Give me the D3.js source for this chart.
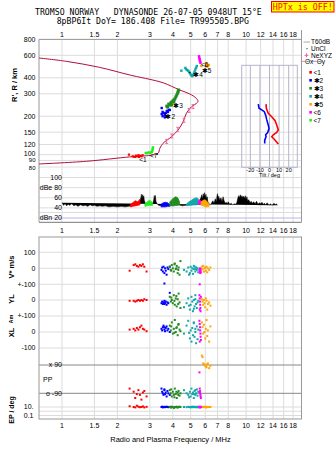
<!DOCTYPE html>
<html>
<head>
<meta charset="utf-8">
<script src="https://cdn.jsdelivr.net/npm/d3@7"></script>
<style>
body { margin: 0; background: #fff; }
svg text { font-family: "Liberation Sans", Arial, sans-serif; fill: #000; }
</style>
</head>
<body>
<div id="container"></div>
<script>
const width = 335;
const height = 451;
const left = 39;
const right = 301.5;

// axis ticks
const freqTicks = [1, 1.5, 2, 3, 4, 5, 6, 7, 8, 10, 12, 14, 16, 18];
const heightTicks = [80, 90, 100, 120, 150, 200, 300, 400, 600, 800];
const ampTicks = [100, 80, 60, 40, 20];
const ampTickLabels = ['100', 'dBe 80', '60', '40', 'dBn 20'];
const tiltTicks = [-20, -10, 0, 10, 20];

const echoColors = ['#ff0000', '#0000ff', '#228b22', '#10a8a8', '#ffa500', '#ff00ff', '#22ee22'];
const echoNames = ['<1', '✱2', '✱3', '✱4', '✱5', '<6', '<7'];

// true height profile
const profileFreq = [0.75, 1.36, 2.33, 2.88, 3.12, 3.33, 3.40, 3.54, 3.93, 4.27, 4.55, 4.74, 5.05, 5.37, 5.48, 5.37, 4.94, 4.36, 3.54, 3.00, 2.38, 1.60, 1.06, 0.75];
const profileHeight = [84.5, 88.7, 96, 98, 99.5, 102.5, 112, 122.7, 138, 156, 181, 211, 237, 252, 262, 276, 299, 321, 366, 389, 418, 483, 538, 572];
const markFreq = [5.15, 4.9, 4.6, 4.25, 3.95, 3.7];
const markHeight = [238, 222, 186, 158, 140, 127];

// echoes, virtual height
const redFreq = [2.31, 2.42, 2.47, 2.52, 2.57, 2.62, 2.66, 2.7, 2.74, 2.5, 2.6];
const redHeight = [100, 97, 96, 98, 97, 96, 98, 97, 99, 96, 99];
const blueFreq = [3.48, 3.52, 3.57, 3.62, 3.52, 3.67, 3.71, 3.76, 3.8, 3.62, 3.48, 3.85, 3.67];
const blueHeight = [208, 200, 212, 204, 216, 212, 220, 216, 224, 196, 232, 224, 200];
const greenFreq = [3.71, 3.8, 3.9, 3.94, 4.0, 4.05, 4.1, 4.15, 4.2, 4.25, 4.28, 4.3, 3.75, 3.85, 3.94, 4.05];
const greenHeight = [240, 249, 254, 245, 263, 258, 273, 283, 293, 304, 315, 321, 236, 245, 258, 268];
const tealFreq = [4.45, 4.68, 4.72, 4.78, 4.85, 4.9, 4.95, 5.0, 5.05, 5.1, 5.15, 5.2, 5.25, 5.3, 5.35, 5.4];
const tealHeight = [455, 478, 468, 460, 455, 445, 435, 425, 418, 412, 420, 432, 448, 465, 480, 495];
const orangeFreq = [5.72, 6.05, 6.1, 6.15, 6.2, 6.28, 6.1];
const orangeHeight = [495, 520, 510, 500, 492, 505, 490];
const magentaFreq = [5.55, 5.57, 5.59, 5.61, 5.63, 5.65];
const magentaHeight = [590, 575, 560, 548, 535, 525];
const limeFreq = [2.85, 2.9, 2.95, 3.0, 3.04, 3.08, 3.1, 3.11, 3.12];
const limeHeight = [103, 103, 104, 103, 104, 105, 108, 111, 114];
const unclFreq = [3.62, 4.95, 6.0, 3.3];
const unclHeight = [208, 440, 495, 101];

const labelFreq = [2.75, 3.87, 4.27, 5.48, 6.1, 5.96, 3.15];
const labelHeight = [91, 198, 243, 426, 455, 507, 98];

// tilt inset
const tiltXHeight = [249, 231, 211, 198, 185, 171, 156, 149, 143, 138, 132, 124, 121];
const tiltX = [-3.6, -3.3, -1.3, 2.3, 5.7, 7.5, 9.2, 7.5, 4.0, 2.3, 5.0, 8.1, 9.2];
const tiltYHeight = [249, 231, 224, 217, 204, 188, 171, 160, 149, 143, 138, 130, 122];
const tiltY = [-11.7, -10.9, -8.1, -5.4, -4.0, -2.9, -1.3, -0.5, -1.9, -4.0, -3.6, -5.0, -5.0];

// amplitude
const noiseFreq = [1.0, 1.02, 1.04, 1.06, 1.08, 1.1, 1.13, 1.16, 1.19, 1.22, 1.26, 1.3, 1.34, 1.38, 1.42, 1.46, 1.5, 1.55, 1.6, 1.66, 1.72, 1.8, 1.9, 2.0, 2.1, 2.2, 2.3, 2.4, 2.5, 2.6, 2.64, 2.68, 2.7, 2.72, 2.74, 2.76, 2.78, 2.8, 2.83, 2.86, 2.95, 3.05, 3.12, 3.15, 3.17, 3.19, 3.21, 3.24, 3.28, 3.35, 3.5, 3.7, 3.9, 4.1, 4.3, 4.5, 4.7, 4.9, 5.1, 5.3, 5.5, 5.6, 5.68, 5.75, 5.8, 5.85, 5.9, 5.95, 6.0, 6.05, 6.1, 6.15, 6.2, 6.3, 6.4, 6.5, 6.6, 6.7, 6.8, 6.9, 6.95, 7.0, 7.05, 7.1, 7.2, 7.3, 7.4, 7.5, 7.6, 7.7, 7.8, 7.9, 8.0, 8.15, 8.3, 8.45, 8.6, 8.75, 8.9, 9.0, 9.1, 9.2, 9.3, 9.4, 9.5, 9.6, 9.7, 9.8, 9.9, 10.0, 10.1, 10.2, 10.35, 10.5, 10.65, 10.8, 11.0, 11.2, 11.4, 11.6, 11.8, 12.0, 12.2, 12.4, 12.6, 12.8, 13.0, 13.2, 13.4, 13.6, 13.8, 14.0, 14.2, 14.4, 14.6, 14.8, 15.0, 15.1];
const noiseDb = [50, 45, 48, 44, 47, 45, 48, 44, 46, 43, 46, 44, 45, 43, 46, 44, 45, 43, 44, 43, 44, 42, 43, 42, 43, 42, 43, 44, 45, 47, 52, 60, 67, 58, 66, 60, 64, 55, 50, 48, 47, 46, 50, 56, 64, 58, 65, 53, 48, 45, 44, 44, 45, 46, 46, 44, 45, 46, 47, 48, 50, 55, 60, 66, 58, 68, 62, 70, 60, 67, 58, 62, 52, 48, 46, 50, 54, 49, 58, 52, 64, 68, 58, 63, 55, 60, 52, 62, 54, 49, 51, 48, 52, 47, 49, 46, 48, 47, 50, 58, 64, 60, 66, 61, 64, 60, 63, 59, 64, 57, 62, 54, 56, 50, 53, 49, 52, 48, 53, 47, 50, 48, 51, 47, 49, 46, 50, 47, 46, 48, 45, 47, 49, 46, 48, 45];
const ampRedFreq = [2.35, 2.42, 2.5, 2.58, 2.65];
const ampRedTop = [46, 50, 54, 52, 57];
const ampRedBot = [42, 43, 44, 45, 46];
const ampLimeFreq = [2.82, 2.9, 2.98, 3.05, 3.1];
const ampLimeTop = [47, 52, 55, 53, 50];
const ampLimeBot = [43, 44, 45, 45, 44];
const ampBlueFreq = [3.45, 3.55, 3.65, 3.75, 3.85];
const ampBlueTop = [47, 50, 51, 50, 46];
const ampBlueBot = [42, 42, 42, 43, 43];
const ampGreenFreq = [3.85, 3.95, 4.05, 4.15, 4.25, 4.35];
const ampGreenTop = [52, 56, 60, 62, 60, 52];
const ampGreenBot = [44, 44, 44, 45, 45, 46];
const ampTealFreq = [4.75, 4.9, 5.05, 5.2, 5.35, 5.5];
const ampTealTop = [48, 52, 55, 58, 60, 58];
const ampTealBot = [44, 45, 45, 46, 46, 47];
const ampMagentaFreq = [5.5, 5.6, 5.7];
const ampMagentaTop = [54, 56, 52];
const ampMagentaBot = [48, 47, 47];
const ampOrangeFreq = [5.7, 5.85, 6.0, 6.15, 6.3];
const ampOrangeTop = [52, 55, 56, 52, 48];
const ampOrangeBot = [45, 44, 42, 42, 43];

// lower panels: V*, YL, XL, PP, EP
const velRedFreq = [2.33, 2.45, 2.5, 2.55, 2.6, 2.65, 2.7, 2.75, 2.8, 2.88];
const velRedV = [-15, 20, 25, 15, 10, 20, 15, 25, 10, -20];
const velRedYL = [-5, -5, -10, -5, 0, -5, 0, -5, 5, 0];
const velRedXL = [15, 20, 10, 25, 15, 30, 40, 20, 15, 5];
const velRedPP = [-60, -80, -120, -95, -70, -100, -130, -85, -75, -110];
const velRedEP = [15, 10, 8, 20, 12, 9, 10, 14, 8, 11];

const velBlueFreq = [3.47, 3.5, 3.53, 3.56, 3.6, 3.63, 3.66, 3.7, 3.74, 3.78, 3.85, 3.6];
const velBlueV = [-10, 5, -20, 10, -30, 0, -15, -40, 5, -5, 10, -95];
const velBlueYL = [-20, -10, -25, -15, -5, -20, -10, -30, -15, -20, 45, -25];
const velBlueXL = [20, 10, 30, 40, 15, 5, 25, 35, 10, 20, 0, 30];
const velBluePP = [-60, -80, -90, -100, -70, -95, -85, -110, -75, -90, -100, -65];
const velBlueEP = [10, 12, 8, 10, 11, 9, 10, 12, 10, 9, 11, 10];

const velGreenFreq = [3.85, 3.9, 3.95, 4.0, 4.05, 4.1, 4.15, 4.2, 4.25, 4.3, 4.35, 4.4, 3.92, 4.08, 4.18, 4.28];
const velGreenV = [10, -10, 20, 0, -20, 30, -5, 15, -30, 5, -40, 45, -15, 25, 0, -10];
const velGreenYL = [20, -10, 0, -20, 30, -30, 10, -40, 5, 40, -15, -50, 15, -5, 25, -25];
const velGreenXL = [40, 10, 60, -10, 20, 75, 0, 30, -20, 50, 15, 5, 35, -5, 25, 45];
const velGreenPP = [-70, -90, -110, -80, -100, -60, -95, -120, -85, -75, -105, -90, -65, -115, -80, -100];
const velGreenEP = [10, 8, 12, 10, 6, 10, 9, 11, 7, 10, 12, 10, 8, 9, 11, 10];

const velTealFreq = [4.6, 4.75, 4.85, 4.95, 5.0, 5.05, 5.1, 5.15, 5.2, 5.25, 5.3, 5.35, 5.4, 5.45, 5.5, 4.9, 5.2, 5.3];
const velTealV = [-10, -20, 5, -30, 10, -15, 0, -35, -5, 10, -20, 5, -10, 0, -25, -40, 15, -5];
const velTealYL = [-45, -20, 10, -60, -30, 20, -10, -70, 0, -40, 30, -25, -50, -15, -5, -35, -55, 5];
const velTealXL = [-10, 40, 70, -40, 10, -60, 25, -20, 55, -30, 0, -70, 35, -45, 15, -5, 60, 20];
const velTealPP = [-70, -90, -100, -80, -110, -60, -95, -85, -120, -75, -100, -90, -65, -105, -80, -115, -95, -70];
const velTealEP = [10, 9, 11, 10, 8, 10, 12, 9, 10, 11, 10, 9, 10, 12, 8, 10, 11, 9];

const velMagentaFreq = [5.58, 5.6, 5.62, 5.63, 5.65, 5.66, 5.68, 5.6];
const velMagentaV = [-10, -20, 0, -30, -5, -15, -25, -100];
const velMagentaYL = [30, 10, -10, -30, -50, -70, 20, -60];
const velMagentaXL = [70, 50, 30, 10, -10, -30, -50, -60];
const velMagentaPP = [43, -60, -75, -90, -100, -110, -120, -85];
const velMagentaEP = [10, 9, 8, 10, 11, 10, 9, 12];

const velOrangeFreq = [5.75, 5.8, 5.85, 5.9, 5.95, 6.0, 6.05, 6.1, 6.15, 6.2, 6.3, 6.4];
const velOrangeV = [10, -5, 15, -20, 0, 5, -15, 10, -25, 0, -10, 5];
const velOrangeYL = [5, -10, -30, 0, -20, -45, 10, -5, -60, -25, -15, -35];
const velOrangeXL = [60, 30, -10, 45, 0, -40, 20, 75, -25, 10, -60, 35];
const velOrangePP = [150, 140, 100, 95, 90, 85, 80, 75, 95, 100, 70, 85];
const velOrangeEP = [10, 11, 9, 10, 12, 10, 8, 10, 11, 9, 10, 10];

// scales
const fScale = d3.scaleLog().domain([0.75, 20]).range([left, right]);
const hScale = d3.scaleLog().domain([80, 800]).range([167, 39.4]);
const ampScale = d3.scaleLinear().domain([20, 100]).range([218, 177.5]);
const tiltScale = d3.scaleLinear().domain([-29, 29]).range([241.7, 297.3]);
const vScale = d3.scaleLinear().domain([-100, 100]).range([284.3, 252.3]);
const ylScale = d3.scaleLinear().domain([-100, 100]).range([316, 284]);
const xlScale = d3.scaleLinear().domain([-100, 100]).range([348, 316]);
const ppScale = d3.scaleLinear().domain([-90, 90]).range([393.3, 365]);
const epScale = d3.scaleLog().domain([0.1, 10]).range([415.5, 407]);

const svg = d3.select('#container')
    .append('svg')
    .attr('width', width)
    .attr('height', height);

svg.append('rect').attr('width', width).attr('height', height).attr('fill', '#fff');

// header
svg.append('text')
    .attr('x', 35).attr('y', 15)
    .style('font-family', '"DejaVu Sans Mono", monospace')
    .style('font-size', '8.2px')
    .style('white-space', 'pre')
    .text('TROMSO NORWAY   DYNASONDE 26-07-05 0948UT 15°E');
svg.append('text')
    .attr('x', 56.7).attr('y', 23.5)
    .style('font-family', '"DejaVu Sans Mono", monospace')
    .style('font-size', '8.2px')
    .style('white-space', 'pre')
    .text('8pBP6It DoY= 186.408 File= TR995505.BPG');
svg.append('rect')
    .attr('x', 271.5).attr('y', 1.5).attr('width', 62.5).attr('height', 10.5)
    .attr('fill', '#ffff00').attr('stroke', '#ff0000').attr('stroke-width', 1);
svg.append('text')
    .attr('x', 302.8).attr('y', 9.6)
    .attr('text-anchor', 'middle')
    .style('font-family', '"DejaVu Sans Mono", monospace')
    .style('font-size', '8.3px')
    .style('fill', '#ff0000')
    .text('HPTx is OFF!');

// grids, upper panel
const grid = svg.append('g');
freqTicks.forEach(f => {
    grid.append('line').attr('x1', fScale(f)).attr('x2', fScale(f)).attr('y1', 39.4).attr('y2', 222)
        .attr('stroke', '#dcdcdc').attr('stroke-width', 1);
    grid.append('line').attr('x1', fScale(f)).attr('x2', fScale(f)).attr('y1', 237).attr('y2', 419)
        .attr('stroke', '#dcdcdc').attr('stroke-width', 1);
});
heightTicks.forEach(h => {
    grid.append('line').attr('x1', left).attr('x2', right).attr('y1', hScale(h)).attr('y2', hScale(h))
        .attr('stroke', '#dcdcdc');
});
ampTicks.forEach(a => {
    grid.append('line').attr('x1', left).attr('x2', right).attr('y1', ampScale(a)).attr('y2', ampScale(a))
        .attr('stroke', a === 20 ? '#b8b8e8' : '#dcdcdc');
});
grid.append('line').attr('x1', left).attr('x2', right).attr('y1', ampScale(31)).attr('y2', ampScale(31))
    .attr('stroke', '#dcdcdc');

// frame upper
svg.append('line').attr('x1', left).attr('x2', left).attr('y1', 39.4).attr('y2', 222).attr('stroke', '#999');
svg.append('line').attr('x1', right).attr('x2', right).attr('y1', 30).attr('y2', 222).attr('stroke', '#999');
svg.append('line').attr('x1', left).attr('x2', right).attr('y1', 39.4).attr('y2', 39.4).attr('stroke', '#999');
svg.append('line').attr('x1', left).attr('x2', right).attr('y1', 222.3).attr('y2', 222.3).attr('stroke', '#777');

// freq tick labels (three rows)
[36.5, 232.5, 427.5].forEach(y => {
    svg.append('g').selectAll('text').data(freqTicks).enter().append('text')
        .attr('x', d => fScale(d)).attr('y', y)
        .attr('text-anchor', 'middle')
        .style('font-size', '7px')
        .text(d => d);
});

// height labels
svg.append('g').selectAll('text').data(heightTicks).enter().append('text')
    .attr('x', 35.5).attr('y', d => hScale(d) + (d === 80 ? 0.5 : d === 90 ? -1 : d === 100 ? -1 : 0))
    .attr('dy', '0.35em')
    .attr('text-anchor', 'end')
    .style('font-size', d => d <= 90 ? '6px' : '7px')
    .text(d => d);
svg.append('text')
    .attr('transform', 'translate(14,85) rotate(-90)')
    .attr('text-anchor', 'middle').attr('dy', '0.35em')
    .style('font-size', '7.5px').style('font-weight', 'bold')
    .text("R', R / km");

// amplitude labels
svg.append('g').selectAll('text').data(ampTicks).enter().append('text')
    .attr('x', 62).attr('y', d => ampScale(d))
    .attr('dy', '0.35em')
    .attr('text-anchor', 'end')
    .style('font-size', '7px')
    .text((d, i) => ampTickLabels[i]);

// inset tilt
const inset = svg.append('g');
tiltTicks.forEach(t => {
    inset.append('line').attr('x1', tiltScale(t)).attr('x2', tiltScale(t)).attr('y1', 65.3).attr('y2', 167.3)
        .attr('stroke', '#b4b4cc');
});
inset.append('rect').attr('x', 241.7).attr('y', 65.3).attr('width', 55.6).attr('height', 102)
    .attr('fill', 'none').attr('stroke', '#b4b4cc');
inset.selectAll('text.tick').data(tiltTicks).enter().append('text')
    .attr('x', d => tiltScale(d)).attr('y', 172)
    .attr('text-anchor', 'middle')
    .style('font-size', '5.5px')
    .text(d => d);
inset.append('text').attr('x', 269.5).attr('y', 177)
    .attr('text-anchor', 'middle').style('font-size', '5.5px').text('Tilt / deg');
const tiltLine = (xs, hs) => d3.line()
    .x((d, i) => tiltScale(xs[i]))
    .y((d, i) => hScale(hs[i]))(xs);
inset.append('path').attr('d', tiltLine(tiltX, tiltXHeight))
    .attr('fill', 'none').attr('stroke', '#ff0000').attr('stroke-width', 1.6);
inset.append('path').attr('d', tiltLine(tiltY, tiltYHeight))
    .attr('fill', 'none').attr('stroke', '#0000ff').attr('stroke-width', 1.6);

// profile
const profileLine = d3.line()
    .x((d, i) => fScale(profileFreq[i]))
    .y((d, i) => hScale(profileHeight[i]))
    .curve(d3.curveCatmullRom);
svg.append('path').attr('d', profileLine(profileFreq))
    .attr('fill', 'none').attr('stroke', '#b0103c').attr('stroke-width', 1);
svg.append('g').selectAll('path').data(markFreq).enter().append('path')
    .attr('d', (d, i) => {
        const x = fScale(d), y = hScale(markHeight[i]);
        return 'M' + (x - 1.5) + ',' + (y - 2) + 'h3M' + x + ',' + (y - 2) + 'v4M' + (x - 1.5) + ',' + (y + 2) + 'h3';
    })
    .attr('stroke', '#f0609a').attr('stroke-width', 0.9).attr('fill', 'none');

function plotPoints(g, xs, ys, yScale, color, size) {
    g.append('g').selectAll('rect').data(xs).enter().append('rect')
        .attr('x', d => fScale(d) - size / 2)
        .attr('y', (d, i) => yScale(ys[i]) - size / 2)
        .attr('width', size).attr('height', size)
        .attr('fill', color);
}

const echoes = svg.append('g');
plotPoints(echoes, redFreq, redHeight, hScale, echoColors[0], 2.2);
plotPoints(echoes, blueFreq, blueHeight, hScale, echoColors[1], 2.4);
plotPoints(echoes, greenFreq, greenHeight, hScale, echoColors[2], 3);
plotPoints(echoes, tealFreq, tealHeight, hScale, echoColors[3], 2.4);
plotPoints(echoes, orangeFreq, orangeHeight, hScale, echoColors[4], 2.4);
plotPoints(echoes, magentaFreq, magentaHeight, hScale, echoColors[5], 2.4);
plotPoints(echoes, limeFreq, limeHeight, hScale, echoColors[6], 2.4);
plotPoints(echoes, unclFreq, unclHeight, hScale, '#000', 1.2);
echoes.append('g').selectAll('text').data(echoNames).enter().append('text')
    .attr('x', (d, i) => fScale(labelFreq[i]))
    .attr('y', (d, i) => hScale(labelHeight[i]))
    .attr('dy', '0.35em').attr('text-anchor', 'middle')
    .style('font-size', '6.5px')
    .text(d => d);

// legend
const legend = svg.append('g');
legend.append('line').attr('x1', 303.5).attr('x2', 310).attr('y1', 42).attr('y2', 42).attr('stroke', '#aaa');
legend.append('rect').attr('x', 306.5).attr('y', 48.2).attr('width', 1).attr('height', 1).attr('fill', '#000');
legend.append('path').attr('d', 'M304.5,55.3h4M306.5,53.3v4').attr('stroke', '#f0609a');
legend.append('line').attr('x1', 300.7).attr('x2', 305).attr('y1', 61.3).attr('y2', 61.3).attr('stroke', '#f08c8c');
legend.append('line').attr('x1', 311.7).attr('x2', 316.7).attr('y1', 61.3).attr('y2', 61.3).attr('stroke', '#9a9ae8');
const legendTexts = [['T60dB', 311, 42], ['UnCl', 311, 48.7], ['NeXYZ', 311, 55.3], ['Θx', 305, 61.3], ['Θy', 316.7, 61.3]];
legendTexts.forEach(t => {
    legend.append('text').attr('x', t[1]).attr('y', t[2]).attr('dy', '0.35em')
        .style('font-size', '6.5px').text(t[0]);
});
echoNames.forEach((name, i) => {
    legend.append('rect').attr('x', 309.3).attr('y', 71 + i * 8).attr('width', 2.6).attr('height', 2.6)
        .attr('fill', echoColors[i]);
    legend.append('text').attr('x', 313.5).attr('y', 72.3 + i * 8).attr('dy', '0.35em')
        .style('font-size', '6.5px').text(name);
});

// amplitude panel
const noiseArea = d3.area()
    .x((d, i) => fScale(noiseFreq[i]))
    .y0(ampScale(41))
    .y1((d, i) => ampScale(noiseDb[i]));
svg.append('path').attr('d', noiseArea(noiseFreq))
    .attr('fill', '#000').attr('stroke', '#000').attr('stroke-width', 0.5);
function ampBlob(fs, tops, bots, color) {
    const area = d3.area()
        .x((d, i) => fScale(fs[i]))
        .y0((d, i) => ampScale(bots[i]))
        .y1((d, i) => ampScale(tops[i]));
    svg.append('path').attr('d', area(fs)).attr('fill', color).attr('stroke', color).attr('stroke-width', 0.8);
}
ampBlob(ampRedFreq, ampRedTop, ampRedBot, echoColors[0]);
ampBlob(ampLimeFreq, ampLimeTop, ampLimeBot, echoColors[6]);
ampBlob(ampBlueFreq, ampBlueTop, ampBlueBot, echoColors[1]);
ampBlob(ampGreenFreq, ampGreenTop, ampGreenBot, echoColors[2]);
ampBlob(ampTealFreq, ampTealTop, ampTealBot, echoColors[3]);
ampBlob(ampMagentaFreq, ampMagentaTop, ampMagentaBot, echoColors[5]);
ampBlob(ampOrangeFreq, ampOrangeTop, ampOrangeBot, echoColors[4]);

// lower panel grid
const lowGrid = svg.append('g');
[vScale(100), vScale(0), vScale(-100), ylScale(0), ylScale(-100), xlScale(0), xlScale(-100),
 epScale(10), epScale(1), epScale(0.1)].forEach(y => {
    lowGrid.append('line').attr('x1', left).attr('x2', right).attr('y1', y).attr('y2', y).attr('stroke', '#dcdcdc');
});
[ppScale(90), ppScale(-90)].forEach(y => {
    lowGrid.append('line').attr('x1', left).attr('x2', right).attr('y1', y).attr('y2', y).attr('stroke', '#888');
});
svg.append('rect').attr('x', left).attr('y', 237).attr('width', right - left).attr('height', 182)
    .attr('fill', 'none').attr('stroke', '#999');

// lower labels
const lowLabels = [
    ['100', vScale(100), 35.5], ['0', vScale(0), 35.5], ['+-100', vScale(-100), 35.5],
    ['0', ylScale(0), 35.5], ['+-100', ylScale(-100), 35.5],
    ['0', xlScale(0), 35.5], ['-100', xlScale(-100), 35.5],
    ['x 90', ppScale(90), 62], ['o -90', ppScale(-90), 62],
    ['10.', epScale(10), 33.5], ['0.1', epScale(0.1), 33.5]
];
lowLabels.forEach(l => {
    svg.append('text').attr('x', l[2]).attr('y', l[1]).attr('dy', '0.35em')
        .attr('text-anchor', 'end').style('font-size', '7px').style('white-space', 'pre').text(l[0]);
});
svg.append('text').attr('x', 43).attr('y', 379.3).attr('dy', '0.35em').style('font-size', '7px').text('PP');
const sideTitles = [['V* m/s', 267, 7.5], ['YL', 299, 7.5], ['Am', 319, 5.5], ['XL', 332.5, 7.5], ['EP / deg', 410, 7]];
sideTitles.forEach(t => {
    svg.append('text')
        .attr('transform', 'translate(11.5,' + t[1] + ') rotate(-90)')
        .attr('text-anchor', 'middle').attr('dy', '0.35em')
        .style('font-size', t[2] + 'px').style('font-weight', 'bold')
        .text(t[0]);
});

// lower scatter
const low = svg.append('g');
function plotLower(fs, v, yl, xl, pp, ep, color) {
    plotPoints(low, fs, v, vScale, color, 2);
    plotPoints(low, fs, yl, ylScale, color, 2);
    plotPoints(low, fs, xl, xlScale, color, 2);
    plotPoints(low, fs, pp, ppScale, color, 2);
    plotPoints(low, fs, ep, epScale, color, 2);
}
plotLower(velRedFreq, velRedV, velRedYL, velRedXL, velRedPP, velRedEP, echoColors[0]);
plotLower(velBlueFreq, velBlueV, velBlueYL, velBlueXL, velBluePP, velBlueEP, echoColors[1]);
plotLower(velGreenFreq, velGreenV, velGreenYL, velGreenXL, velGreenPP, velGreenEP, echoColors[2]);
plotLower(velTealFreq, velTealV, velTealYL, velTealXL, velTealPP, velTealEP, echoColors[3]);
plotLower(velOrangeFreq, velOrangeV, velOrangeYL, velOrangeXL, velOrangePP, velOrangeEP, echoColors[4]);
plotLower(velMagentaFreq, velMagentaV, velMagentaYL, velMagentaXL, velMagentaPP, velMagentaEP, echoColors[5]);

svg.append('text').attr('x', 170.5).attr('y', 441.5)
    .attr('text-anchor', 'middle').style('font-size', '7.5px')
    .text('Radio and Plasma Frequency / MHz');
</script>
</body>
</html>
